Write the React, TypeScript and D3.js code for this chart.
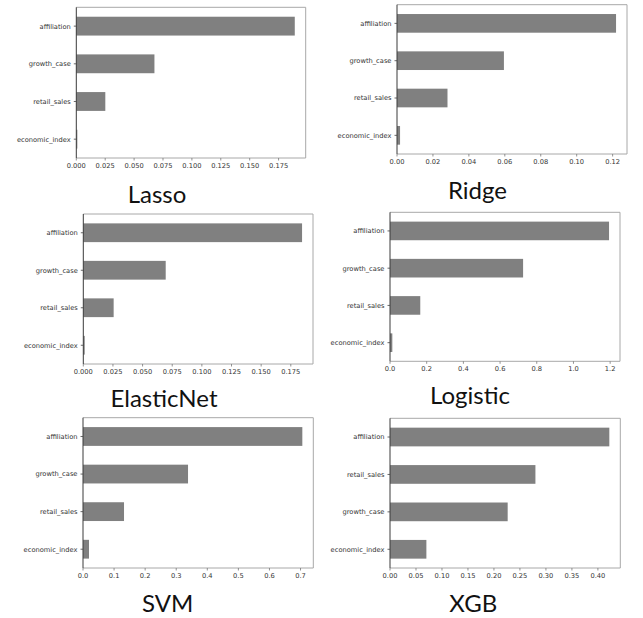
import React from "react";
import * as d3 from "d3";

// ---- data ----
const lassoFeatures = ["affiliation", "growth_case", "retail_sales", "economic_index"];
const lassoValues = [0.189, 0.0676, 0.0251, 0.0009];
const lassoTicks = [0, 0.025, 0.05, 0.075, 0.1, 0.125, 0.15, 0.175];

const ridgeFeatures = ["affiliation", "growth_case", "retail_sales", "economic_index"];
const ridgeValues = [0.1219, 0.0595, 0.0281, 0.0017];
const ridgeTicks = [0, 0.02, 0.04, 0.06, 0.08, 0.1, 0.12];

const enetFeatures = ["affiliation", "growth_case", "retail_sales", "economic_index"];
const enetValues = [0.1845, 0.0695, 0.0256, 0.0012];
const enetTicks = [0, 0.025, 0.05, 0.075, 0.1, 0.125, 0.15, 0.175];

const logisticFeatures = ["affiliation", "growth_case", "retail_sales", "economic_index"];
const logisticValues = [1.194, 0.7255, 0.165, 0.0127];
const logisticTicks = [0, 0.2, 0.4, 0.6, 0.8, 1.0, 1.2];

const svmFeatures = ["affiliation", "growth_case", "retail_sales", "economic_index"];
const svmValues = [0.7058, 0.338, 0.132, 0.0193];
const svmTicks = [0, 0.1, 0.2, 0.3, 0.4, 0.5, 0.6, 0.7];

const xgbFeatures = ["affiliation", "retail_sales", "growth_case", "economic_index"];
const xgbValues = [0.422, 0.2798, 0.2264, 0.07];
const xgbTicks = [0, 0.05, 0.1, 0.15, 0.2, 0.25, 0.3, 0.35, 0.4];

const titles = ["Lasso", "Ridge", "ElasticNet", "Logistic", "SVM", "XGB"];

// ---- layout (pixel boxes of each axes) ----
const boxes = [
  { l: 76.3, r: 305.7, t: 7.3, b: 158, tx: 157, ty: 203, fmt: ".3f" },
  { l: 397, r: 627, t: 4.7, b: 154, tx: 477.5, ty: 199, fmt: ".2f" },
  { l: 83.3, r: 313, t: 214, b: 364, tx: 164, ty: 407.3, fmt: ".3f" },
  { l: 390, r: 620, t: 212.3, b: 361.3, tx: 470, ty: 404, fmt: ".1f" },
  { l: 83, r: 313.3, t: 417.7, b: 568, tx: 167.7, ty: 611.7, fmt: ".1f" },
  { l: 390, r: 620.3, t: 418.3, b: 568, tx: 473.3, ty: 611.7, fmt: ".2f" },
];

const panelData = [
  { features: lassoFeatures, values: lassoValues, ticks: lassoTicks },
  { features: ridgeFeatures, values: ridgeValues, ticks: ridgeTicks },
  { features: enetFeatures, values: enetValues, ticks: enetTicks },
  { features: logisticFeatures, values: logisticValues, ticks: logisticTicks },
  { features: svmFeatures, values: svmValues, ticks: svmTicks },
  { features: xgbFeatures, values: xgbValues, ticks: xgbTicks },
];

const W = 643;
const H = 618;
const tickFont = "DejaVu Sans, sans-serif";

function Panel({ idx }: { idx: number }) {
  const box = boxes[idx];
  const { features, values, ticks } = panelData[idx];
  const maxV = d3.max(values) as number;
  const x = d3.scaleLinear().domain([0, maxV * 1.05]).range([box.l, box.r]);
  const y = d3
    .scaleBand<string>()
    .domain(features)
    .range([box.t, box.b])
    .paddingInner(0.5)
    .paddingOuter(0.25);
  const fmt = d3.format(box.fmt);
  return (
    <g>
      {features.map((f, i) => (
        <rect
          key={f}
          x={x(0)}
          y={y(f)}
          width={Math.max(0.8, x(values[i]) - x(0))}
          height={y.bandwidth()}
          fill="#808080"
        />
      ))}
      {/* frame */}
      <line x1={box.l} x2={box.r} y1={box.t} y2={box.t} stroke="#a8a8a8" strokeWidth={1} />
      <line x1={box.r} x2={box.r} y1={box.t} y2={box.b} stroke="#a8a8a8" strokeWidth={1} />
      <line x1={box.l} x2={box.r} y1={box.b} y2={box.b} stroke="#a8a8a8" strokeWidth={1} />
      <line x1={box.l} x2={box.l} y1={box.t} y2={box.b} stroke="#3a3a3a" strokeWidth={1} />
      {/* x ticks */}
      {ticks.map((t) => (
        <g key={t}>
          <line x1={x(t)} x2={x(t)} y1={box.b} y2={box.b + 2.5} stroke="#777" strokeWidth={0.8} />
          <text
            x={x(t)}
            y={box.b + 9.8}
            textAnchor="middle"
            fontFamily={tickFont}
            fontSize={6.7}
            fill="#333"
          >
            {fmt(t)}
          </text>
        </g>
      ))}
      {/* y ticks */}
      {features.map((f) => {
        const cy = (y(f) as number) + y.bandwidth() / 2;
        return (
          <g key={f}>
            <line x1={box.l - 2.5} x2={box.l} y1={cy} y2={cy} stroke="#444" strokeWidth={0.8} />
            <text
              x={box.l - 5.5}
              y={cy + 2.4}
              textAnchor="end"
              fontFamily={tickFont}
              fontSize={6.7}
              fill="#333"
            >
              {f}
            </text>
          </g>
        );
      })}
      <text
        x={box.tx}
        y={box.ty}
        textAnchor="middle"
        fontFamily="Lato, sans-serif"
        fontSize={24}
        fill="#111"
      >
        {titles[idx]}
      </text>
    </g>
  );
}

export default function App() {
  return (
    <svg
      width={W}
      height={H}
      viewBox={`0 0 ${W} ${H}`}
      style={{ position: "absolute", left: 0, top: 0, background: "#fff" }}
    >
      <rect x={0} y={0} width={W} height={H} fill="#fff" />
      {boxes.map((_, i) => (
        <Panel key={i} idx={i} />
      ))}
    </svg>
  );
}
